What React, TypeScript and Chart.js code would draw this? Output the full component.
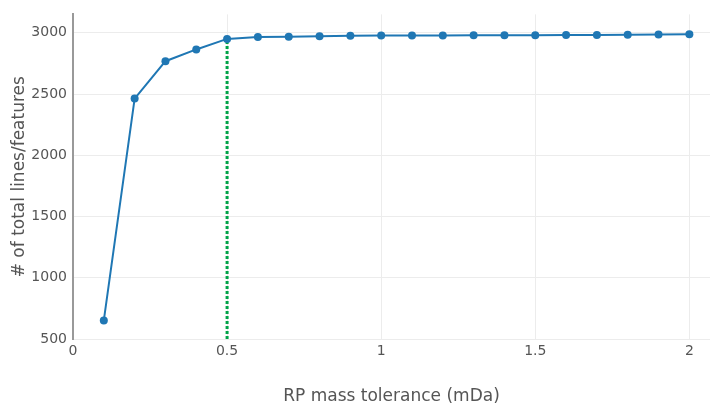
import React, { useEffect, useRef } from "react";
import { Chart, registerables } from "chart.js";

Chart.register(...registerables);

const tolerance = [0.1, 0.2, 0.3, 0.4, 0.5, 0.6, 0.7, 0.8, 0.9, 1.0, 1.1, 1.2, 1.3, 1.4, 1.5, 1.6, 1.7, 1.8, 1.9, 2.0];
const totalFeatures = [652, 2463, 2768, 2864, 2950, 2966, 2967, 2972, 2975, 2977, 2978, 2978, 2979, 2979, 2980, 2981, 2982, 2983, 2985, 2987];
const cutoffX = [0.5, 0.5];
const cutoffY = [500, 2950];

const xTicks = [0, 0.5, 1, 1.5, 2];
const yTicks = [500, 1000, 1500, 2000, 2500, 3000];

const xTitle = "RP mass tolerance (mDa)";
const yTitle = "# of total lines/features";

export default function App() {
  const ref = useRef<HTMLCanvasElement | null>(null);

  useEffect(() => {
    document.body.style.margin = "0";
    const ctx = ref.current!;
    const family = "'DejaVu Sans', Verdana, sans-serif";
    const tickFont = { family, size: 14 };
    const titleFont = { family, size: 17 };
    const chart = new Chart(ctx, {
      type: "line",
      data: {
        datasets: [
          {
            data: tolerance.map((x, i) => ({ x, y: totalFeatures[i] })),
            borderColor: "#1f77b4",
            backgroundColor: "#1f77b4",
            borderWidth: 2,
            pointRadius: 4,
            pointBorderWidth: 0,
            tension: 0,
            order: 1,
          },
          {
            data: cutoffX.map((x, i) => ({ x, y: cutoffY[i] })),
            borderColor: "#00a348",
            borderWidth: 3,
            borderDash: [3, 2],
            pointRadius: 0,
            order: 2,
          },
        ],
      },
      options: {
        animation: false,
        responsive: false,
        layout: { padding: { top: 13, right: 0, left: 0, bottom: 0 } },
        plugins: { legend: { display: false }, tooltip: { enabled: false } },
        scales: {
          x: {
            type: "linear",
            min: 0,
            max: 2.067,
            afterBuildTicks: (s: any) => {
              s.ticks = xTicks.map((v) => ({ value: v }));
            },
            ticks: {
              color: "#555",
              font: tickFont,
              padding: 4,
              maxRotation: 0,
              autoSkip: false,
              callback: (v: any) => String(Number(v)),
            },
            grid: { color: "#ececec", drawTicks: false, lineWidth: 1 },
            border: { display: false },
            title: {
              display: true,
              text: xTitle,
              color: "#555",
              font: titleFont,
              padding: { top: 4, bottom: 2 },
            },
            afterFit: (s: any) => {
              s.height = 70;
            },
          },
          y: {
            type: "linear",
            min: 500,
            max: 3150,
            afterBuildTicks: (s: any) => {
              s.ticks = yTicks.map((v) => ({ value: v }));
            },
            ticks: {
              color: "#555",
              font: tickFont,
              padding: 6,
              autoSkip: false,
              callback: (v: any) => String(Number(v)),
            },
            grid: { color: "#ececec", drawTicks: false, lineWidth: 1 },
            border: { display: true, color: "#999", width: 2 },
            title: {
              display: true,
              text: yTitle,
              color: "#555",
              font: titleFont,
              padding: { top: 9, bottom: 4 },
            },
            afterFit: (s: any) => {
              s.width = 73;
            },
          },
        },
      },
    });
    return () => chart.destroy();
  }, []);

  return (
    <div style={{ width: 714, height: 409 }}>
      <canvas ref={ref} width={714} height={409} style={{ display: "block" }} />
    </div>
  );
}
